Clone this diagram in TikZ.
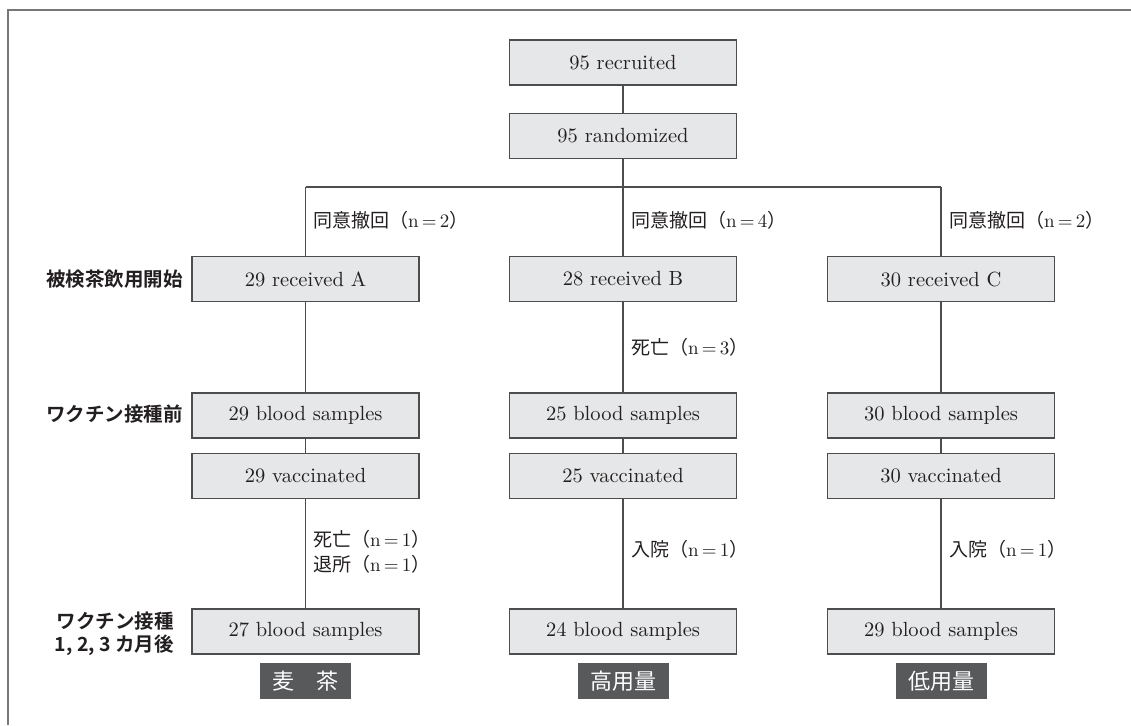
\documentclass[tikz,border=0pt]{standalone}
\usepackage{fontspec}
\setmainfont{lmroman10-regular}[Extension=.otf]
\newfontfamily\jp{Noto Sans CJK JP}
\newfontfamily\jpb{Noto Sans CJK JP Bold}
\definecolor{boxfill}{HTML}{E6E7E8}
\definecolor{boxline}{HTML}{4D4D4D}
\definecolor{txt}{HTML}{231F20}
\definecolor{tagfill}{HTML}{58595B}
\definecolor{framec}{HTML}{777777}
\tikzset{
  flowbox/.style={draw=boxline, fill=boxfill, line width=1.1pt, minimum width=227pt, minimum height=45pt, inner sep=0pt, text=txt, font=\fontsize{20.5}{24}\selectfont},
  conn/.style={draw=boxline, line width=1.1pt},
  note/.style={anchor=west, inner sep=0pt, text=txt, font=\fontsize{19}{25}\selectfont},
  stage/.style={anchor=east, inner sep=0pt, text=txt, align=right, font=\jpb\fontsize{19.5}{23}\selectfont},
  grouptag/.style={fill=tagfill, text=white, minimum width=91pt, minimum height=36pt, inner sep=0pt, font=\jp\fontsize{22}{24}\selectfont}
}
\begin{document}
\begin{tikzpicture}[x=1pt,y=-1pt]
\useasboundingbox (0,0) rectangle (1131,725);
\draw[framec, line width=2pt] (8,725) -- (8,10) -- (1131,10);

\node[flowbox] (rec) at (623,62.5) {95 recruited};
\node[flowbox] (rnd) at (623,136) {95 randomized};

\coordinate (jA) at (305.5,187);
\coordinate (jB) at (623,187);
\coordinate (jC) at (941,187);

\node[flowbox] (A1) at (305.5,279) {29 received A};
\node[flowbox] (B1) at (623,279) {28 received B};
\node[flowbox] (C1) at (941,279) {30 received C};

\node[flowbox] (A2) at (305.5,415.5) {29 blood samples};
\node[flowbox] (B2) at (623,415.5) {25 blood samples};
\node[flowbox] (C2) at (941,415.5) {30 blood samples};

\node[flowbox] (A3) at (305.5,476) {29 vaccinated};
\node[flowbox] (B3) at (623,476) {25 vaccinated};
\node[flowbox] (C3) at (941,476) {30 vaccinated};

\node[flowbox] (A4) at (305.5,631.5) {27 blood samples};
\node[flowbox] (B4) at (623,631.5) {24 blood samples};
\node[flowbox] (C4) at (941,631.5) {29 blood samples};

\draw[conn] (rec.south) -- (rnd.north);
\draw[conn] (rnd.south) -- (jB);
\draw[conn] (jA) -- (jC);
\draw[conn] (jA) -- (A1.north);
\draw[conn] (jB) -- (B1.north);
\draw[conn] (jC) -- (C1.north);
\foreach \c in {A,B,C}{
  \draw[conn] (\c1.south) -- (\c2.north);
  \draw[conn] (\c2.south) -- (\c3.north);
  \draw[conn] (\c3.south) -- (\c4.north);
}

\node[note] (nA1) at (313,220) {{\jp 同意撤回（}n\,=\,2{\jp ）}};
\node[note] (nB1) at (631,220) {{\jp 同意撤回（}n\,=\,4{\jp ）}};
\node[note] (nC1) at (949,220) {{\jp 同意撤回（}n\,=\,2{\jp ）}};
\node[note] (nB2) at (631,347) {{\jp 死亡（}n\,=\,3{\jp ）}};
\node[note, align=left] (nA3) at (313,551.5) {{\jp 死亡（}n\,=\,1{\jp ）}\\{\jp 退所（}n\,=\,1{\jp ）}};
\node[note] (nB3) at (631,549) {{\jp 入院（}n\,=\,1{\jp ）}};
\node[note] (nC3) at (949,549) {{\jp 入院（}n\,=\,1{\jp ）}};

\node[stage] (s1) at (183,279) {被検茶飲用開始};
\node[stage] (s2) at (183,414) {ワクチン接種前};
\node[stage] (s3) at (174,633.5) {ワクチン接種\\1, 2, 3 カ月後};

\node[grouptag] (gA) at (305.5,681) {麦　茶};
\node[grouptag] (gB) at (623,681) {高用量};
\node[grouptag] (gC) at (941,681) {低用量};
\end{tikzpicture}
\end{document}
